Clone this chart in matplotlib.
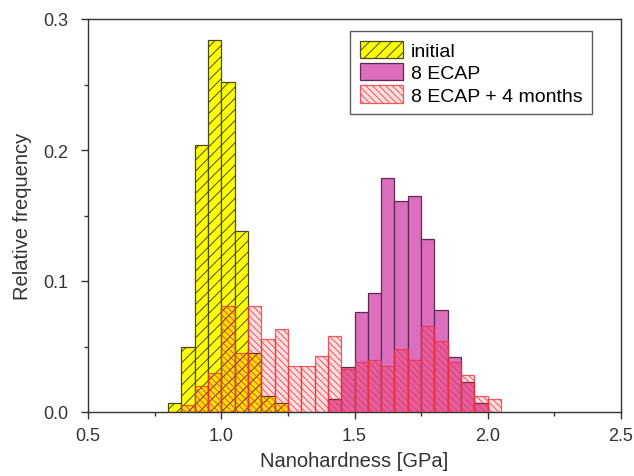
import matplotlib
matplotlib.use("Agg")
import matplotlib.pyplot as plt
import numpy as np

plt.rcParams['font.family'] = ['Liberation Sans', 'DejaVu Sans']
plt.rcParams['hatch.linewidth'] = 0.7

bin_width = 0.05

initial_left = [0.80, 0.85, 0.90, 0.95, 1.00, 1.05, 1.10, 1.15, 1.20]
initial_freq = [0.007, 0.050, 0.204, 0.284, 0.252, 0.138, 0.045, 0.012, 0.007]

ecap_left = [1.40, 1.45, 1.50, 1.55, 1.60, 1.65, 1.70, 1.75, 1.80, 1.85, 1.90, 1.95]
ecap_freq = [0.010, 0.034, 0.076, 0.091, 0.179, 0.161, 0.165, 0.132, 0.078, 0.042, 0.023, 0.007]

aged_left = [0.85, 0.90, 0.95, 1.00, 1.05, 1.10, 1.15, 1.20, 1.25, 1.30, 1.35, 1.40,
             1.45, 1.50, 1.55, 1.60, 1.65, 1.70, 1.75, 1.80, 1.85, 1.90, 1.95, 2.00]
aged_freq = [0.005, 0.020, 0.030, 0.081, 0.045, 0.081, 0.056, 0.063, 0.035, 0.035, 0.043, 0.058,
             0.033, 0.038, 0.040, 0.035, 0.048, 0.040, 0.066, 0.054, 0.038, 0.028, 0.012, 0.010]

labels = ["initial", "8 ECAP", "8 ECAP + 4 months"]

fig = plt.figure(figsize=(6.34, 4.77), dpi=100)
ax = fig.add_axes([88/634, 1-413/477, (621-88)/634, (413-20)/477])

ax.bar(initial_left, initial_freq, width=bin_width, align='edge',
       facecolor='#FFFF00', edgecolor='#4A4A20', linewidth=0.9, hatch='///',
       label=labels[0], zorder=2)
ax.bar(ecap_left, ecap_freq, width=bin_width, align='edge',
       facecolor='#DD6EBE', edgecolor='#5A2C52', linewidth=0.9,
       label=labels[1], zorder=3)
ax.bar(aged_left, aged_freq, width=bin_width, align='edge',
       facecolor=(1.0, 0.0, 0.0, 0.13), edgecolor=(0.95, 0.2, 0.25, 0.8),
       linewidth=0.9, hatch='\\\\\\\\\\', label=labels[2], zorder=4)

ax.set_xlim(0.5, 2.5)
ax.set_ylim(0.0, 0.3)
ax.set_xticks([0.5, 1.0, 1.5, 2.0, 2.5])
ax.set_xticks([0.75, 1.25, 1.75, 2.25], minor=True)
ax.set_yticks([0.0, 0.1, 0.2, 0.3])
ax.set_yticks([0.05, 0.15, 0.25], minor=True)
ax.xaxis.set_major_formatter(matplotlib.ticker.FormatStrFormatter('%.1f'))
ax.yaxis.set_major_formatter(matplotlib.ticker.FormatStrFormatter('%.1f'))
ax.tick_params(axis='both', which='major', direction='out', length=5, width=1,
               labelsize=13, colors='#333333', labelcolor='#333333')
ax.tick_params(axis='x', which='major', pad=6)
ax.tick_params(axis='y', which='major', pad=9)
ax.tick_params(axis='both', which='minor', direction='out', length=3, width=1,
               colors='#333333')
for s in ax.spines.values():
    s.set_linewidth(1.0)
    s.set_color('#333333')

ax.set_xlabel("Nanohardness [GPa]", fontsize=14.5, color='#333333', labelpad=5)
ax.set_ylabel("Relative frequency", fontsize=14.5, color='#333333', labelpad=8)

leg = ax.legend(loc='upper right', bbox_to_anchor=(1 - 29/533, 1 - 12/393),
                fontsize=14, frameon=True, fancybox=False, edgecolor='#333333',
                borderaxespad=0, handlelength=2.2, handleheight=1.0,
                handletextpad=0.4, labelspacing=0.15, borderpad=0.5)
leg.get_frame().set_linewidth(1.0)

fig.savefig("out.png", dpi=100)
